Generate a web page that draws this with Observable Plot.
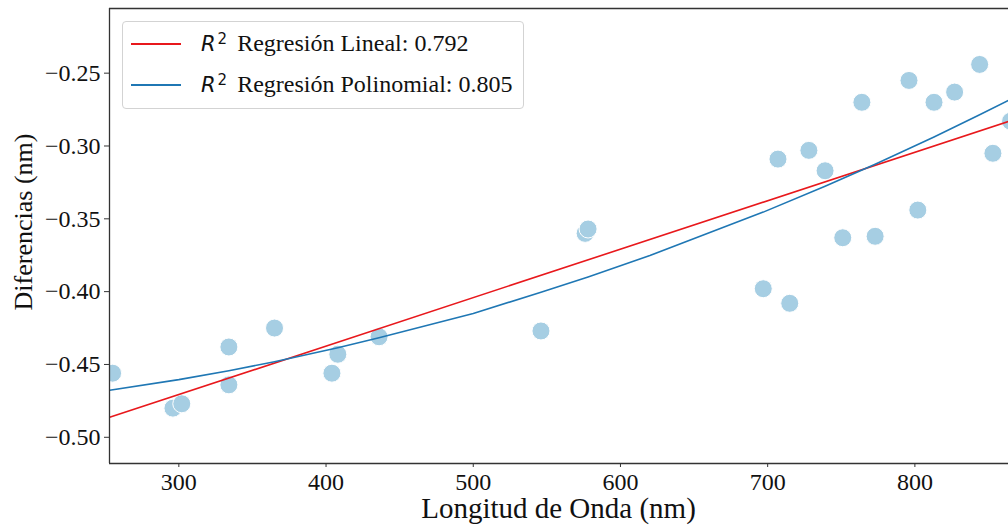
<!DOCTYPE html>
<html>
<head>
<meta charset="utf-8">
<script src="https://cdn.jsdelivr.net/npm/d3@7"></script>
<script src="https://cdn.jsdelivr.net/npm/@observablehq/plot@0.6"></script>
<style>
  html, body { margin: 0; padding: 0; background: #fff; overflow: hidden; }
  #wrap { position: relative; width: 1008px; height: 527px; overflow: hidden; }
  #wrap svg { position: absolute; left: 0; top: 0; }
  .legend {
    position: absolute; left: 122px; top: 21px; width: 400px; height: 86px;
    border: 1px solid #d3d3d3; border-radius: 4px; background: rgba(255,255,255,0.85);
    font-family: "Liberation Serif", serif; font-size: 24px; color: #111;
  }
  .legend .row { position: absolute; left: 0; height: 30px; display: flex; align-items: center; white-space: nowrap; }
  .legend .swatch { display: inline-block; width: 50px; height: 2px; margin-left: 8px; margin-right: 20px; }
  .legend .label { line-height: 30px; }
  .legend .r { font-family: "DejaVu Sans", sans-serif; font-style: italic; font-size: 21px; }
  .legend .sup { font-family: "DejaVu Sans", sans-serif; font-size: 15px; position: relative; top: -7px; margin-left: 2px; margin-right: 10px; }
  .title-x { position: absolute; left: 109px; width: 899px; top: 492px; text-align: center;
    font-family: "Liberation Serif", serif; font-size: 29px; color: #111; }
  .title-y { position: absolute; left: 24px; top: 222px; transform: translate(-50%, -50%) rotate(-90deg);
    font-family: "Liberation Serif", serif; font-size: 26px; color: #111; white-space: nowrap; }
</style>
</head>
<body>
<div id="wrap">
  <div class="title-x">Longitud de Onda (nm)</div>
  <div class="title-y">Diferencias (nm)</div>
</div>
<script>
// Measured differences per wavelength
const wavelength = [255, 296, 302, 334, 334, 365, 404, 408, 436, 546, 576, 578,
  697, 707, 715, 728, 739, 751, 764, 773, 796, 802, 813, 827, 844, 853, 865];
const diferencia = [-0.456, -0.480, -0.477, -0.438, -0.464, -0.425, -0.456, -0.443, -0.431, -0.427, -0.360, -0.357,
  -0.398, -0.309, -0.408, -0.303, -0.317, -0.363, -0.270, -0.362, -0.255, -0.344, -0.270, -0.263, -0.244, -0.305, -0.283];

// Linear fit line
const linealX = [253, 864];
const linealY = [-0.4863, -0.2830];

// Polynomial fit curve
const polinomialX = [253, 300, 334, 365, 408, 436, 500, 546, 578, 620, 697, 739, 773, 813, 844, 864];
const polinomialY = [-0.4677, -0.4604, -0.4543, -0.4481, -0.4385, -0.4317, -0.4150, -0.4004, -0.3899, -0.3752,
  -0.3454, -0.3276, -0.3125, -0.2938, -0.2786, -0.2685];

// Legend entries
const seriesNames = ["Regresión Lineal", "Regresión Polinomial"];
const r2Values = ["0.792", "0.805"];
const seriesColors = ["#e8181c", "#1f77b4"];

const xTicks = [300, 400, 500, 600, 700, 800];
const yTicks = [-0.50, -0.45, -0.40, -0.35, -0.30, -0.25];

const xDomain = [252.9, 863.6];
const yDomain = [-0.518, -0.2056];

const points = wavelength.map((x, i) => ({x, y: diferencia[i]}));
const lineal = linealX.map((x, i) => ({x, y: linealY[i]}));
const polinomial = polinomialX.map((x, i) => ({x, y: polinomialY[i]}));

const axisColor = "#333";

const chart = Plot.plot({
  width: 1008,
  height: 527,
  marginLeft: 109,
  marginRight: 0,
  marginTop: 8,
  marginBottom: 64,
  style: {fontFamily: "Liberation Serif, serif", fontSize: "24px", color: "#111", background: "transparent"},
  x: {domain: xDomain},
  y: {domain: yDomain},
  marks: [
    Plot.dot(points, {x: "x", y: "y", r: 9, fill: "#a6cee3", stroke: "white", strokeWidth: 1, fillOpacity: 1, clip: true}),
    Plot.line(lineal, {x: "x", y: "y", stroke: seriesColors[0], strokeWidth: 1.6, clip: true}),
    Plot.line(polinomial, {x: "x", y: "y", stroke: seriesColors[1], strokeWidth: 1.6, curve: "linear", clip: true}),
    Plot.ruleX([xDomain[0]], {stroke: axisColor, strokeWidth: 1.3}),
    Plot.ruleY(yDomain, {stroke: axisColor, strokeWidth: 1.3}),
    Plot.axisX({ticks: xTicks, tickSize: 4, tickPadding: 5, label: null, stroke: axisColor, fill: "#111"}),
    Plot.axisY({ticks: yTicks, tickSize: 5, tickPadding: 4, tickFormat: d3.format(".2f"), label: null, stroke: axisColor, fill: "#111"})
  ]
});

const wrap = document.getElementById("wrap");
wrap.prepend(chart);

// Legend box
const legend = document.createElement("div");
legend.className = "legend";
seriesNames.forEach((name, i) => {
  const row = document.createElement("div");
  row.className = "row";
  row.style.top = (7 + i * 41) + "px";
  row.innerHTML = `<span class="swatch" style="background:${seriesColors[i]}"></span>` +
    `<span class="label"><span class="r">R</span><span class="sup">2</span>${name}: ${r2Values[i]}</span>`;
  legend.appendChild(row);
});
wrap.appendChild(legend);
</script>
</body>
</html>
